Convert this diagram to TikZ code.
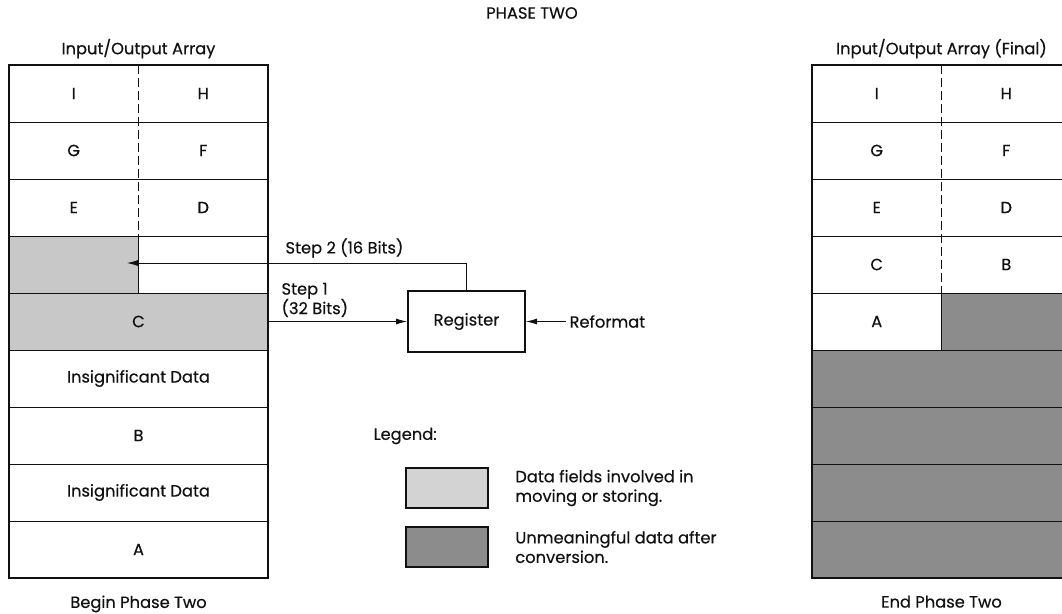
\documentclass[tikz,border=0pt]{standalone}
\usepackage{fontspec}
\setmainfont{Poppins}[FakeBold=0.4]
\usetikzlibrary{arrows.meta,positioning}
\definecolor{ink}{HTML}{111111}
\definecolor{moved}{HTML}{C8C8C8}
\definecolor{junk}{HTML}{8C8C8C}

\begin{document}
\begin{tikzpicture}[x=1pt, y=-1pt, node distance=0pt,
    every node/.style={font=\fontsize{16.3}{19.5}\selectfont, text=ink},
    cell/.style={draw=ink, line width=0.8pt, minimum width=259pt, minimum height=57pt, inner sep=0pt, outer sep=0pt},
    half/.style={minimum width=129.5pt, minimum height=57pt, inner sep=0pt, outer sep=0pt},
    shade/.style={half, draw=ink, line width=0.9pt},
    frame/.style={draw=ink, line width=2pt},
    split/.style={draw=ink, line width=0.9pt, dash pattern=on 9pt off 4pt},
    key/.style={draw=ink, line width=1.6pt, minimum width=82pt, minimum height=40pt},
    arr/.style={-{Latex[length=11pt, width=6pt]}, draw=ink, line width=0.8pt}]
  \useasboundingbox (0,0) rectangle (1062,613);
  \clip (0,0) rectangle (1062,613);
  \node (title) at (532,13) {PHASE TWO};
  % begin phase two
  \node[cell, anchor=north west] (b1) at (9,65) {};
  \node[cell, below=of b1] (b2) {};
  \node[cell, below=of b2] (b3) {};
  \node[cell, below=of b3] (b4) {};
  \node[cell, below=of b4, fill=moved] (b5) {C};
  \node[cell, below=of b5] (b6) {Insignificant Data};
  \node[cell, below=of b6] (b7) {B};
  \node[cell, below=of b7] (b8) {Insignificant Data};
  \node[cell, below=of b8] (b9) {A};
  \node[half, anchor=west] at (b1.west) {I};
  \node[half, anchor=east] at (b1.east) {H};
  \node[half, anchor=west] at (b2.west) {G};
  \node[half, anchor=east] at (b2.east) {F};
  \node[half, anchor=west] at (b3.west) {E};
  \node[half, anchor=east] at (b3.east) {D};
  \node[shade, anchor=west, fill=moved] (bX) at (b4.west) {};
  \draw[split] (b1.north) -- (b3.south);
  \draw[frame] (b1.north west) rectangle (b9.south east);
  \node[above=3pt of b1] (bhead) {Input/Output Array};
  \node[below=14pt of b9] (bfoot) {Begin Phase Two};
  % register and moves
  \node[draw=ink, line width=2pt, minimum width=117pt, minimum height=61pt] (reg) at (466.5,321.5) {Register};
  \node[right=40pt of reg] (fmt) {Reformat};
  \coordinate (s2) at (127,263);
  \draw[arr] (b5) -- (reg);
  \draw[arr] (reg.north) |- (s2);
  \draw[arr] (fmt) -- (reg);
  \node[anchor=west] (s2lbl) at (282,248) {Step 2 (16 Bits)};
  \node[anchor=west, align=left] (s1lbl) at (278,300) {Step 1\\(32 Bits)};
  % legend
  \node[anchor=west] (leg) at (370,436) {Legend:};
  \node[key, fill=moved!80] (k1) at (447,488) {};
  \node[key, fill=junk] (k2) at (447,547) {};
  \node[right=23pt of k1, align=left] (k1txt) {Data fields involved in\\moving or storing.};
  \node[right=23pt of k2, align=left] (k2txt) {Unmeaningful data after\\conversion.};
  % end phase two
  \node[cell, anchor=north west] (e1) at (812,65) {};
  \node[cell, below=of e1] (e2) {};
  \node[cell, below=of e2] (e3) {};
  \node[cell, below=of e3] (e4) {};
  \node[cell, below=of e4] (e5) {};
  \node[cell, below=of e5, fill=junk] (e6) {};
  \node[cell, below=of e6, fill=junk] (e7) {};
  \node[cell, below=of e7, fill=junk] (e8) {};
  \node[cell, below=of e8, fill=junk] (e9) {};
  \node[half, anchor=west] at (e1.west) {I};
  \node[half, anchor=east] at (e1.east) {H};
  \node[half, anchor=west] at (e2.west) {G};
  \node[half, anchor=east] at (e2.east) {F};
  \node[half, anchor=west] at (e3.west) {E};
  \node[half, anchor=east] at (e3.east) {D};
  \node[half, anchor=west] at (e4.west) {C};
  \node[half, anchor=east] at (e4.east) {B};
  \node[half, anchor=west] at (e5.west) {A};
  \node[shade, anchor=east, fill=junk] (eZ) at (e5.east) {};
  \draw[split] (e1.north) -- (e4.south);
  \draw[frame] (e1.north west) rectangle (e9.south east);
  \node[above=3pt of e1] (ehead) {Input/Output Array (Final)};
  \node[below=14pt of e9] (efoot) {End Phase Two};
\end{tikzpicture}
\end{document}
